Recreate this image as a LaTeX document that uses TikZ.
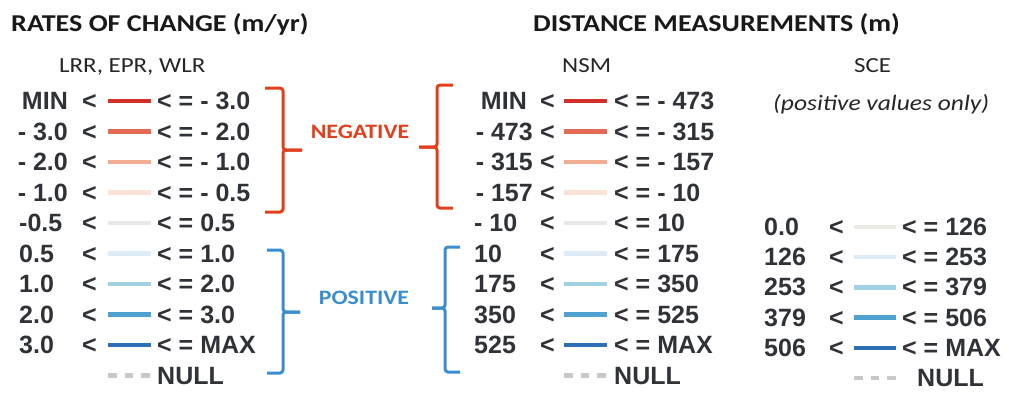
\documentclass[tikz,border=0pt]{standalone}
\usepackage{fontspec}
\setmainfont{Liberation Sans}
\newfontfamily\calib[FakeStretch=1.16]{Carlito}
\definecolor{txtgray}{HTML}{2F3237}
\definecolor{negred}{HTML}{E0401C}
\definecolor{posblue}{HTML}{3A8ED0}
\definecolor{swA}{HTML}{D42E2A}
\definecolor{swB}{HTML}{E46A55}
\definecolor{swC}{HTML}{F3AE92}
\definecolor{swD}{HTML}{FBE2D6}
\definecolor{swE}{HTML}{E8E8E8}
\definecolor{swF}{HTML}{DCEBF5}
\definecolor{swG}{HTML}{A2D1E3}
\definecolor{swH}{HTML}{4FA1CF}
\definecolor{swI}{HTML}{2C6FB5}
\definecolor{swK}{HTML}{EBEAE4}
\definecolor{swNull}{HTML}{C8C8C8}
\tikzset{
  val/.style={inner sep=0pt, text=txtgray, font=\fontsize{25}{28}\selectfont\bfseries},
  hdr/.style={inner sep=0pt, text=black!90, font=\calib\fontsize{24.2}{28}\selectfont\bfseries},
  sub/.style={inner sep=0pt, text=black!85, font=\calib\fontsize{21.5}{25}\selectfont},
  grp/.style={inner sep=0pt, font=\calib\fontsize{20.5}{24}\selectfont\bfseries},
  swatch/.style={line width=4.5pt},
  nullsw/.style={line width=4.5pt, color=swNull, dash pattern=on 8.5pt off 8pt},
  brace/.style={line width=3pt, rounded corners=3pt}
}
\begin{document}
\begin{tikzpicture}[x=1pt,y=-1pt]
\useasboundingbox (0,0) rectangle (1011,394);
\node[hdr, anchor=base west] (roctitle) at (11,31) {RATES OF CHANGE (m/yr)};
\node[hdr, anchor=base west] (distitle) at (533,31) {DISTANCE MEASUREMENTS (m)};
\node[sub, anchor=base west] (lrrlbl) at (59,72.5) {LRR, EPR, WLR};
\node[sub, anchor=base west] (nsmlbl) at (562,72.5) {NSM};
\node[sub, anchor=base west] (scelbl) at (854,72.5) {SCE};
\node[sub, anchor=base west, font=\calib\fontsize{22}{25}\selectfont\itshape] (scenote) at (773,110) {(positive values only)};
\node[val, anchor=base east] (la1) at (68,109.5) {MIN};
\node[val, anchor=base west] (lb1) at (82,109.5) {<};
\draw[swatch, swA] (108,101) -- (151,101);
\node[val, anchor=base west] (lc1) at (157,109.5) {< = - 3.0};
\node[val, anchor=base east] (la2) at (68,140) {- 3.0};
\node[val, anchor=base west] (lb2) at (82,140) {<};
\draw[swatch, swB] (108,131.5) -- (151,131.5);
\node[val, anchor=base west] (lc2) at (157,140) {< = - 2.0};
\node[val, anchor=base east] (la3) at (68,170.5) {- 2.0};
\node[val, anchor=base west] (lb3) at (82,170.5) {<};
\draw[swatch, swC] (108,162) -- (151,162);
\node[val, anchor=base west] (lc3) at (157,170.5) {< = - 1.0};
\node[val, anchor=base east] (la4) at (68,201) {- 1.0};
\node[val, anchor=base west] (lb4) at (82,201) {<};
\draw[swatch, swD] (108,192.5) -- (151,192.5);
\node[val, anchor=base west] (lc4) at (157,201) {< = - 0.5};
\node[val, anchor=base west] (la5) at (19,231.5) {-0.5};
\node[val, anchor=base west] (lb5) at (82,231.5) {<};
\draw[swatch, swE] (108,223) -- (151,223);
\node[val, anchor=base west] (lc5) at (157,231.5) {< = 0.5};
\node[val, anchor=base west] (la6) at (19,262) {0.5};
\node[val, anchor=base west] (lb6) at (82,262) {<};
\draw[swatch, swF] (108,253.5) -- (151,253.5);
\node[val, anchor=base west] (lc6) at (157,262) {< = 1.0};
\node[val, anchor=base west] (la7) at (19,292.5) {1.0};
\node[val, anchor=base west] (lb7) at (82,292.5) {<};
\draw[swatch, swG] (108,284) -- (151,284);
\node[val, anchor=base west] (lc7) at (157,292.5) {< = 2.0};
\node[val, anchor=base west] (la8) at (19,323) {2.0};
\node[val, anchor=base west] (lb8) at (82,323) {<};
\draw[swatch, swH] (108,314.5) -- (151,314.5);
\node[val, anchor=base west] (lc8) at (157,323) {< = 3.0};
\node[val, anchor=base west] (la9) at (19,353.5) {3.0};
\node[val, anchor=base west] (lb9) at (82,353.5) {<};
\draw[swatch, swI] (108,345) -- (151,345);
\node[val, anchor=base west] (lc9) at (157,353.5) {< = MAX};
\draw[nullsw] (108,375.5) -- (151,375.5);
\node[val, anchor=base west] (lnull) at (157,384) {NULL};
\draw[brace, negred] (265,88) -- (283,88) -- (283,150) -- (302,150);
\draw[brace, negred] (302,150) -- (283,150) -- (283,212) -- (265,212);
\node[grp, text=negred] (neglbl) at (360,132) {NEGATIVE};
\draw[brace, negred] (453,85) -- (437,85) -- (437,147) -- (419,147);
\draw[brace, negred] (419,147) -- (437,147) -- (437,208) -- (453,208);
\draw[brace, posblue] (267,250) -- (283,250) -- (283,312) -- (300,312);
\draw[brace, posblue] (300,312) -- (283,312) -- (283,373) -- (267,373);
\node[grp, text=posblue] (poslbl) at (364,298) {POSITIVE};
\draw[brace, posblue] (460,247) -- (445,247) -- (445,308) -- (432,308);
\draw[brace, posblue] (432,308) -- (445,308) -- (445,372) -- (460,372);
\node[val, anchor=base east] (na1) at (527,109.5) {MIN};
\node[val, anchor=base west] (nb1) at (540,109.5) {<};
\draw[swatch, swA] (564,101) -- (607,101);
\node[val, anchor=base west] (nc1) at (614,109.5) {< = - 473};
\node[val, anchor=base east] (na2) at (533,140) {- 473};
\node[val, anchor=base west] (nb2) at (540,140) {<};
\draw[swatch, swB] (564,131.5) -- (607,131.5);
\node[val, anchor=base west] (nc2) at (614,140) {< = - 315};
\node[val, anchor=base east] (na3) at (533,170.5) {- 315};
\node[val, anchor=base west] (nb3) at (540,170.5) {<};
\draw[swatch, swC] (564,162) -- (607,162);
\node[val, anchor=base west] (nc3) at (614,170.5) {< = - 157};
\node[val, anchor=base east] (na4) at (533,201) {- 157};
\node[val, anchor=base west] (nb4) at (540,201) {<};
\draw[swatch, swD] (564,192.5) -- (607,192.5);
\node[val, anchor=base west] (nc4) at (614,201) {< = - 10};
\node[val, anchor=base west] (na5) at (474,231.5) {- 10};
\node[val, anchor=base west] (nb5) at (540,231.5) {<};
\draw[swatch, swE] (564,223) -- (607,223);
\node[val, anchor=base west] (nc5) at (614,231.5) {< = 10};
\node[val, anchor=base west] (na6) at (474,262) {10};
\node[val, anchor=base west] (nb6) at (540,262) {<};
\draw[swatch, swF] (564,253.5) -- (607,253.5);
\node[val, anchor=base west] (nc6) at (614,262) {< = 175};
\node[val, anchor=base west] (na7) at (474,292.5) {175};
\node[val, anchor=base west] (nb7) at (540,292.5) {<};
\draw[swatch, swG] (564,284) -- (607,284);
\node[val, anchor=base west] (nc7) at (614,292.5) {< = 350};
\node[val, anchor=base west] (na8) at (474,323) {350};
\node[val, anchor=base west] (nb8) at (540,323) {<};
\draw[swatch, swH] (564,314.5) -- (607,314.5);
\node[val, anchor=base west] (nc8) at (614,323) {< = 525};
\node[val, anchor=base west] (na9) at (474,353.5) {525};
\node[val, anchor=base west] (nb9) at (540,353.5) {<};
\draw[swatch, swI] (564,345) -- (607,345);
\node[val, anchor=base west] (nc9) at (614,353.5) {< = MAX};
\draw[nullsw] (564,375.5) -- (607,375.5);
\node[val, anchor=base west] (nnull) at (614,384) {NULL};
\node[val, anchor=base west] (sa1) at (764,235.5) {0.0};
\node[val, anchor=base west] (sb1) at (829,235.5) {<};
\draw[swatch, swK] (854,227) -- (896,227);
\node[val, anchor=base west] (sc1) at (902,235.5) {< = 126};
\node[val, anchor=base west] (sa2) at (764,265.7) {126};
\node[val, anchor=base west] (sb2) at (829,265.7) {<};
\draw[swatch, swF] (854,257.2) -- (896,257.2);
\node[val, anchor=base west] (sc2) at (902,265.7) {< = 253};
\node[val, anchor=base west] (sa3) at (764,295.9) {253};
\node[val, anchor=base west] (sb3) at (829,295.9) {<};
\draw[swatch, swG] (854,287.4) -- (896,287.4);
\node[val, anchor=base west] (sc3) at (902,295.9) {< = 379};
\node[val, anchor=base west] (sa4) at (764,326.1) {379};
\node[val, anchor=base west] (sb4) at (829,326.1) {<};
\draw[swatch, swH] (854,317.6) -- (896,317.6);
\node[val, anchor=base west] (sc4) at (902,326.1) {< = 506};
\node[val, anchor=base west] (sa5) at (764,356.3) {506};
\node[val, anchor=base west] (sb5) at (829,356.3) {<};
\draw[swatch, swI] (854,347.8) -- (896,347.8);
\node[val, anchor=base west] (sc5) at (902,356.3) {< = MAX};
\draw[nullsw] (854,378) -- (896,378);
\node[val, anchor=base west] (snull) at (917,386.5) {NULL};
\end{tikzpicture}
\end{document}
